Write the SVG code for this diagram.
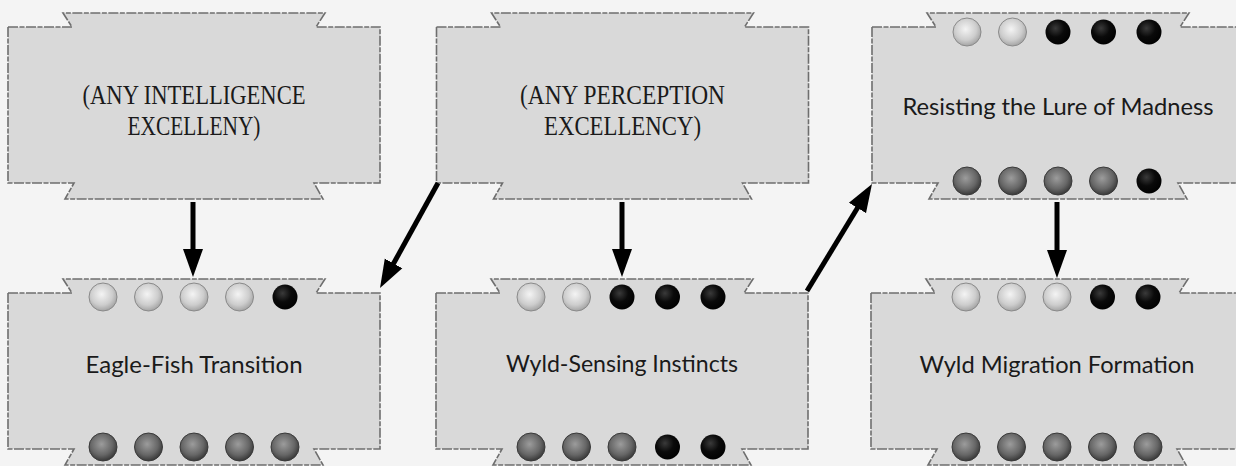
<svg xmlns="http://www.w3.org/2000/svg" width="1236" height="466" viewBox="0 0 1236 466">
<style>
.shape{fill:#d9d9d9;stroke:#6e6e6e;stroke-width:1.6;stroke-dasharray:10 1.5 5 1.5}
.cap{font-family:"Liberation Serif",serif;font-size:28px;fill:#1a1a1a;text-anchor:middle}
.lbl{font-family:Lato,"Noto Sans",sans-serif;font-size:23px;fill:#1a1a1a;text-anchor:middle}
.arrow{stroke:#000;stroke-width:5;fill:none;marker-end:url(#head)}
.lt{fill:url(#gLight);stroke:#8a8a8a;stroke-width:1}
.dk{fill:url(#gDark);stroke:#3a3a3a;stroke-width:1}
.bk{fill:url(#gBlack)}
</style>
<defs>
<radialGradient id="gLight" cx="0.45" cy="0.4" r="0.65">
<stop offset="0" stop-color="#f4f4f4"/><stop offset="0.6" stop-color="#cdcdcd"/><stop offset="1" stop-color="#9a9a9a"/>
</radialGradient>
<radialGradient id="gDark" cx="0.45" cy="0.4" r="0.65">
<stop offset="0" stop-color="#9c9c9c"/><stop offset="0.6" stop-color="#666"/><stop offset="1" stop-color="#2e2e2e"/>
</radialGradient>
<radialGradient id="gBlack" cx="0.4" cy="0.35" r="0.7">
<stop offset="0" stop-color="#3a3a3a"/><stop offset="0.5" stop-color="#0a0a0a"/><stop offset="1" stop-color="#000"/>
</radialGradient>
<path id="shape" d="M-186,0 H-122 L-131,-14 H131 L122,0 H186 V156 H120 L129,172 H-129 L-120,156 H-186 Z"/>
<marker id="head" markerUnits="userSpaceOnUse" markerWidth="30" markerHeight="22" viewBox="0 -11 30 22" refX="2" refY="0" orient="auto">
<path d="M0,-10 L28,0 L0,10 Z" fill="#000"/>
</marker>
</defs>
<rect width="1236" height="466" fill="#f4f4f4"/>

<g id="node-intelligence" transform="translate(194,27)">
<use href="#shape" class="shape"/>
<text class="cap" x="0" y="77" textLength="223" lengthAdjust="spacingAndGlyphs">(ANY INTELLIGENCE</text>
<text class="cap" x="0" y="108" textLength="133" lengthAdjust="spacingAndGlyphs">EXCELLENY)</text>
</g>

<g id="node-perception" transform="translate(622.5,27)">
<use href="#shape" class="shape"/>
<text class="cap" x="0" y="77" textLength="205" lengthAdjust="spacingAndGlyphs">(ANY PERCEPTION</text>
<text class="cap" x="0" y="108" textLength="157" lengthAdjust="spacingAndGlyphs">EXCELLENCY)</text>
</g>

<g id="node-resisting" transform="translate(1058,27)">
<use href="#shape" class="shape"/>
<circle class="lt" cx="-91" cy="5" r="14"/>
<circle class="lt" cx="-45.5" cy="5" r="14"/>
<circle class="bk" cx="0" cy="5" r="12.5"/>
<circle class="bk" cx="45.5" cy="5" r="12.5"/>
<circle class="bk" cx="91" cy="5" r="12.5"/>
<text class="lbl" x="0" y="88" textLength="311" lengthAdjust="spacingAndGlyphs">Resisting the Lure of Madness</text>
<circle class="dk" cx="-91" cy="154" r="14"/>
<circle class="dk" cx="-45.5" cy="154" r="14"/>
<circle class="dk" cx="0" cy="154" r="14"/>
<circle class="dk" cx="45.5" cy="154" r="14"/>
<circle class="bk" cx="91" cy="154" r="12.5"/>
</g>

<g id="node-eagle" transform="translate(194,293)">
<use href="#shape" class="shape"/>
<circle class="lt" cx="-91" cy="4" r="14"/>
<circle class="lt" cx="-45.5" cy="4" r="14"/>
<circle class="lt" cx="0" cy="4" r="14"/>
<circle class="lt" cx="45.5" cy="4" r="14"/>
<circle class="bk" cx="91" cy="4" r="12.5"/>
<text class="lbl" x="0" y="80" textLength="217" lengthAdjust="spacingAndGlyphs">Eagle-Fish Transition</text>
<circle class="dk" cx="-91" cy="154" r="14"/>
<circle class="dk" cx="-45.5" cy="154" r="14"/>
<circle class="dk" cx="0" cy="154" r="14"/>
<circle class="dk" cx="45.5" cy="154" r="14"/>
<circle class="dk" cx="91" cy="154" r="14"/>
</g>

<g id="node-wyldsensing" transform="translate(622,293)">
<use href="#shape" class="shape"/>
<circle class="lt" cx="-91" cy="4" r="14"/>
<circle class="lt" cx="-45.5" cy="4" r="14"/>
<circle class="bk" cx="0" cy="4" r="12.5"/>
<circle class="bk" cx="45.5" cy="4" r="12.5"/>
<circle class="bk" cx="91" cy="4" r="12.5"/>
<text class="lbl" x="0" y="79" textLength="232" lengthAdjust="spacingAndGlyphs">Wyld-Sensing Instincts</text>
<circle class="dk" cx="-91" cy="154" r="14"/>
<circle class="dk" cx="-45.5" cy="154" r="14"/>
<circle class="dk" cx="0" cy="154" r="14"/>
<circle class="bk" cx="45.5" cy="154" r="12.5"/>
<circle class="bk" cx="91" cy="154" r="12.5"/>
</g>

<g id="node-migration" transform="translate(1057,293)">
<use href="#shape" class="shape"/>
<circle class="lt" cx="-91" cy="4" r="14"/>
<circle class="lt" cx="-45.5" cy="4" r="14"/>
<circle class="lt" cx="0" cy="4" r="14"/>
<circle class="bk" cx="45.5" cy="4" r="12.5"/>
<circle class="bk" cx="91" cy="4" r="12.5"/>
<text class="lbl" x="0" y="80" textLength="275" lengthAdjust="spacingAndGlyphs">Wyld Migration Formation</text>
<circle class="dk" cx="-91" cy="154" r="14"/>
<circle class="dk" cx="-45.5" cy="154" r="14"/>
<circle class="dk" cx="0" cy="154" r="14"/>
<circle class="dk" cx="45.5" cy="154" r="14"/>
<circle class="dk" cx="91" cy="154" r="14"/>
</g>

<g id="connectors">
<line class="arrow" x1="193" y1="202" x2="193" y2="251"/>
<line class="arrow" x1="438" y1="183" x2="392.6" y2="265.2"/>
<line class="arrow" x1="622" y1="202" x2="622" y2="251"/>
<line class="arrow" x1="807" y1="291" x2="858.5" y2="206.2"/>
<line class="arrow" x1="1057" y1="202" x2="1057" y2="252"/>
</g>
</svg>
